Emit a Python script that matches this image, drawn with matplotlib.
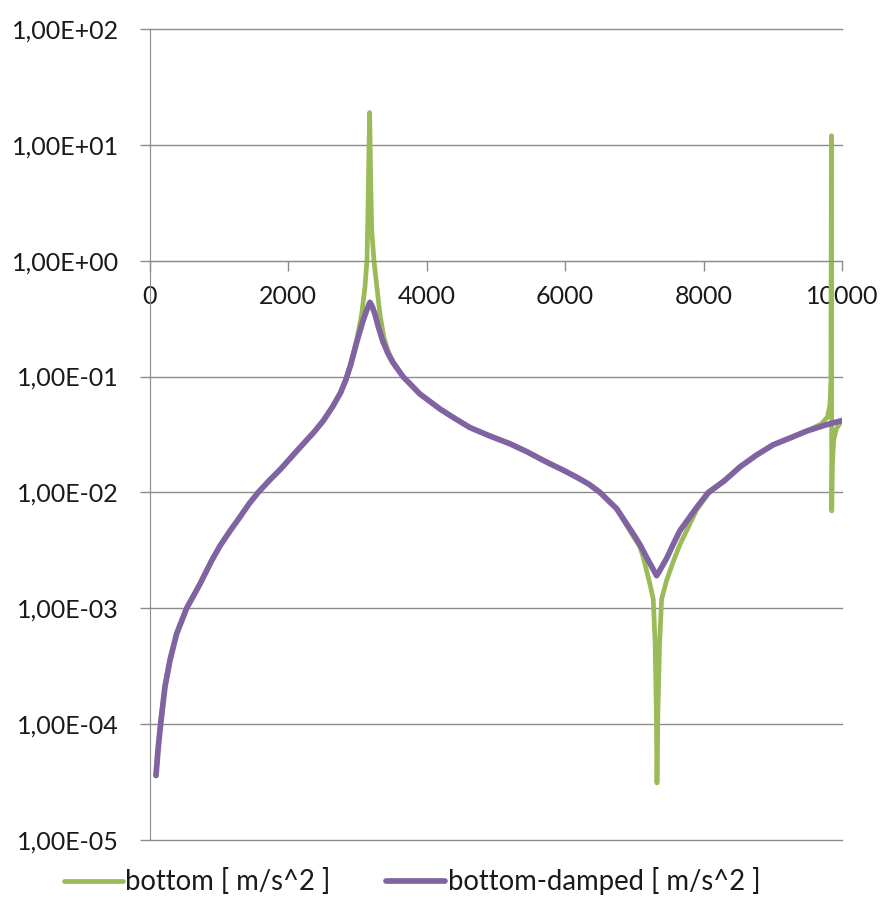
import matplotlib
matplotlib.use("Agg")
import matplotlib.pyplot as plt
from matplotlib.ticker import FixedLocator, FuncFormatter

plt.rcParams['font.family'] = ['Lato', 'DejaVu Sans']

# frequency response, damped model
freq_damped = [87, 120, 154, 217, 289, 385, 530, 723, 891, 1014,
               1160, 1304, 1430, 1565, 1720, 1884, 2050, 2217, 2370, 2507,
               2640, 2754, 2830, 2900, 2990, 3078, 3136, 3179, 3215, 3250,
               3300, 3367, 3440, 3512, 3656, 3900, 4191, 4400, 4624, 4900,
               5202, 5450, 5737, 5950, 6170, 6350, 6503, 6744, 6985, 7080,
               7177, 7250, 7322, 7390, 7466, 7560, 7659, 7900, 8070, 8300,
               8526, 8760, 9003, 9250, 9494, 9750, 10000]
acc_damped = [3.6e-5, 6.3e-5, 1.0e-4, 2.1e-4, 3.55e-4, 6.0e-4, 1.0e-3, 1.62e-3, 2.57e-3, 3.47e-3,
              4.68e-3, 6.17e-3, 7.94e-3, 1.0e-2, 1.26e-2, 1.58e-2, 2.04e-2, 2.63e-2, 3.31e-2, 4.17e-2,
              5.5e-2, 7.24e-2, 9.33e-2, 0.126, 0.20, 0.302, 0.38, 0.437, 0.398, 0.347,
              0.269, 0.20, 0.158, 0.132, 0.10, 0.0708, 0.0525, 0.0437, 0.0363, 0.0309,
              0.0263, 0.0224, 0.0182, 0.0158, 0.0135, 0.0117, 0.010, 0.00724, 0.00437, 0.00355,
              0.00275, 0.00229, 0.00191, 0.00224, 0.00269, 0.00355, 0.00468, 0.00741, 0.010, 0.0126,
              0.0166, 0.0209, 0.0257, 0.0295, 0.0339, 0.038, 0.0417]

# undamped model
freq_bottom = [87, 120, 154, 217, 289, 385, 530, 723, 891, 1014,
               1160, 1304, 1430, 1565, 1720, 1884, 2050, 2217, 2370, 2507,
               2640, 2754, 2830, 2900, 2990, 3060, 3107, 3136, 3150, 3165,
               3175, 3190, 3205, 3237, 3280, 3323, 3380, 3440, 3512, 3656,
               3900, 4191, 4400, 4624, 4900, 5202, 5450, 5737, 5950, 6170,
               6350, 6503, 6744, 6985, 7080, 7129, 7225, 7273, 7300, 7318,
               7327, 7340, 7365, 7394, 7466, 7560, 7659, 7780, 7900, 8070,
               8300, 8526, 8760, 9003, 9250, 9494, 9700, 9790, 9825, 9840,
               9848, 9852, 9862, 9880, 9920, 10000]
acc_bottom = [3.6e-5, 6.3e-5, 1.0e-4, 2.1e-4, 3.55e-4, 6.0e-4, 1.0e-3, 1.62e-3, 2.57e-3, 3.47e-3,
              4.68e-3, 6.17e-3, 7.94e-3, 1.0e-2, 1.26e-2, 1.58e-2, 2.04e-2, 2.63e-2, 3.31e-2, 4.17e-2,
              5.5e-2, 7.24e-2, 9.33e-2, 0.126, 0.209, 0.347, 0.589, 1.0, 2.51, 9.33,
              19.0, 4.9, 1.82, 1.0, 0.589, 0.347, 0.219, 0.166, 0.135, 0.10,
              0.0708, 0.0525, 0.0437, 0.0363, 0.0309, 0.0263, 0.0224, 0.0182, 0.0158, 0.0135,
              0.0117, 0.010, 0.00724, 0.00417, 0.00339, 0.00275, 0.00162, 0.0012, 5.0e-4, 1.26e-4,
              3.1e-5, 1.26e-4, 5.0e-4, 0.0012, 0.00174, 0.00251, 0.00355, 0.00501, 0.00708, 0.00977,
              0.0126, 0.0166, 0.0209, 0.0257, 0.0295, 0.0339, 0.0389, 0.0447, 0.0562, 0.0891,
              12.0, 0.00692, 0.0178, 0.0282, 0.0355, 0.0417]

x_ticks = [0, 2000, 4000, 6000, 8000, 10000]
y_ticks = [1e-5, 1e-4, 1e-3, 1e-2, 1e-1, 1e0, 1e1, 1e2]

green = '#9BBB59'
purple = '#8064A2'
grid_c = '#8C8C8C'
text_c = '#1a1a1a'

fig = plt.figure(figsize=(8.82, 9.17), dpi=100)
ax = fig.add_axes([0.170, 0.084, 0.7846, 0.8844])

ax.plot(freq_bottom, acc_bottom, color=green, lw=3.4, solid_capstyle='round',
        solid_joinstyle='round', label='bottom [ m/s^2 ]')
ax.plot(freq_damped, acc_damped, color=purple, lw=4.1, solid_capstyle='round',
        solid_joinstyle='round', label='bottom-damped [ m/s^2 ]')

ax.set_yscale('log')
ax.set_ylim(1e-5, 1e2)
ax.set_xlim(0, 10000)

ax.yaxis.set_major_locator(FixedLocator(y_ticks))
ax.yaxis.set_minor_locator(FixedLocator([]))
ax.yaxis.set_major_formatter(FuncFormatter(lambda v, p: ('%.2E' % v).replace('.', ',')))
ax.set_xticks(x_ticks)
ax.set_xticklabels([str(t) for t in x_ticks])

ax.grid(axis='y', color=grid_c, lw=1.0)
ax.set_axisbelow(True)
for gl in ax.get_ygridlines():
    gl.set_clip_on(False)

# x axis crosses at y = 1
ax.spines['bottom'].set_position(('data', 1))
ax.spines['bottom'].set_color(grid_c)
ax.spines['left'].set_color(grid_c)
ax.spines['top'].set_visible(False)
ax.spines['right'].set_visible(False)

ax.tick_params(axis='x', direction='out', length=7.5, width=1.0, color=grid_c,
               pad=10, labelsize=18, labelcolor=text_c)
ax.tick_params(axis='y', direction='out', length=7.5, width=1.0, color=grid_c,
               pad=15, labelsize=18, labelcolor=text_c)

leg = fig.legend(loc='center', bbox_to_anchor=(0.467, 0.039), ncol=2, frameon=False,
                 fontsize=19.8, handlelength=2.15, handletextpad=0.1,
                 columnspacing=2.0)
for t in leg.get_texts():
    t.set_color(text_c)

fig.savefig('out.png', dpi=100)
